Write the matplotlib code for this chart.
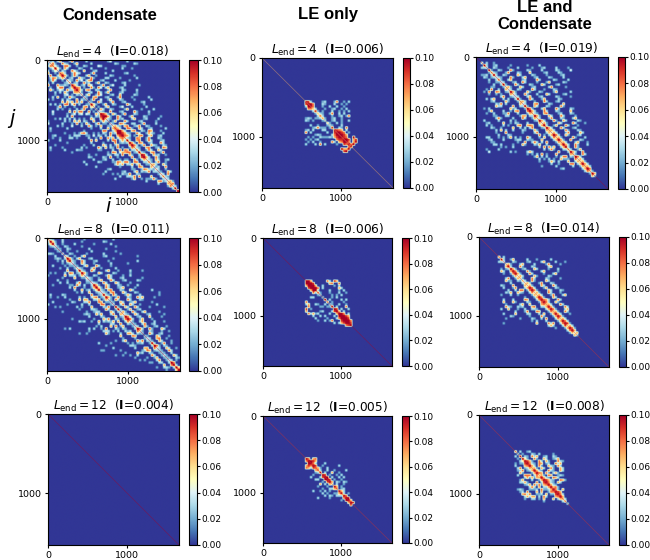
import numpy as np
import matplotlib
matplotlib.use("Agg")
import matplotlib.pyplot as plt

# each row starts on the diagonal, one char = one 30 bead bin, digit*0.01 (a = 0.10)
cond_4 = ["5230370002800000300000000240000003",
"4820083200270000030000000003200000032",
"7420088300200320000430000000022",
"a520730000320003000002000000300020",
"4032008420070002300000030000000",
"8730028430000280000300000002300",
"a720283000370020000032000000002",
"4023007320082000033000020000003",
"5320824037800023000030000020",
"6023008230027003200000230000",
"a730230740002800240000300000200",
"a870200820840370000230000000",
"a730780032000280000320000300",
"6200230083027000023000002000",
"5037002840002300700000320000",
"4200780002300028000020000003",
"3028004002700032000020000003",
"3200830002800023000000230000",
"a620027003200008300000200",
"5020037000024000300000300",
"3073003200002700000200003",
"4320080002300008200003000",
"a9720730028000320000200000",
"aa720083000270000320000020",
"6320082300037000230000300",
"3027000830000230000020",
"4200872003300280000300",
"5732078002380032000020",
"8730088200730023000003",
"aa73007800320870002",
"a9732008400273200030",
"a873020780037002300",
"6320087002800032000",
"a30078002830002300",
"a720870023000830",
"a830280073200320",
"6320078002308700",
"7300283007300",
"a32007800280000",
"a9300723002000",
"a73008200",
"5320730023",
"720380020",
"6730072",
"423008",
"53002",
"3200730",
"53080",
"73200",
"4300",
"5720",
"680",
"43",
"a",
"a"]

cond_8 = ["6320003000000002000000000003",
"a620030000000200000000320000",
"a30020000300000002000000300",
"4200320000020000000000000200",
"3200320000000300000020",
"3002000200000300000000020",
"4003200000200000030000002",
"5300200370000000230000000000002",
"a720370002300000000200000",
"a320083000230000200000000000300",
"4200730002000000300000020",
"320037000830000200000",
"5320003800200000300000",
"a320083000037000200003000020",
"a720000730000320000020000",
"4200320002730000200300000",
"5320020007300023000000020",
"3200370008300023000032",
"4320083000730000200000",
"a720073000320020003",
"a620830002370000200000",
"a320780003200730000000300",
"4320780007300032000000002",
"a320830002730003000000020",
"a720280003200837000020",
"4208300083000320000",
"3200730023700000020000",
"4003800730020000003",
"a200730083000020000020",
"a300270023000000",
"3720082003700000200",
"5320073000230000020",
"a830023000700002",
"a830027000200",
"4200370000300020",
"3200380023000",
"4300720023000200",
"a83008200073",
"5200320002002",
"300830023000",
"32000730002000",
"4300780020",
"32007300020",
"a300280020",
"a820320",
"4300730020",
"3200830",
"320030",
"42007300",
"3200320",
"4302",
"a80",
"a30",
"a6",
"a"]

cond_12 = [""] * 55

le_4 = [""] * 18 + ["a9300002300028002030",
"aa800032000300202",
"a80002003003002000",
"6300020023002030",
"a20200030020203",
"632002800303",
"83000200230280",
"7200230020",
"3002300200300",
"5200302000",
"32000300",
"a0032080",
"a9870300",
"aa98020",
"aa97000",
"a9800a",
"aa9079",
"a807a",
"a8a",
"a"] + [""] * 17

le_8 = [""] * 18 + ["aa7000000830970",
"aa9000000780080",
"aa7003000020300",
"aa803000000730",
"a3000030002030",
"82000200030020",
"300002020300",
"3000203000",
"a0300003030",
"7020000200",
"32003002",
"a0300080",
"a9030030",
"a70300",
"aa8030",
"aa970",
"aa90",
"aa8",
"a9",
"a"] + [""] * 17

le_12 = [""] * 18 + ["a80780",
"aa970000",
"a8300030",
"a90020000003",
"872003000000",
"83003002000030",
"a0300700200",
"a9020020300",
"aa030030300",
"a9020020",
"a70320320",
"5030020",
"a7020",
"80230",
"a7300",
"a302",
"a80",
"aa",
"a7",
"a9"] + [""] * 17

both_4 = ["", "",
"5030020",
"a3002300000200000020000300",
"4003200002000300000200023000030000200",
"a200320008200000320000300000320000400",
"7320002800032000700000230000320000",
"a300320000730000320000200000230000",
"4320008200037000230000320000300",
"8200370000230000830000032000030",
"4300023008300002000270000032000",
"a200083000032000730000230000",
"5720007300023000003800000200000",
"4300320000830002000320000",
"a720000720003200002700000300",
"5300082000300073000002300",
"4300037000230000032000020",
"a2000830002700000320000",
"6730002000830002300000",
"4300078000032000070000",
"a200730003200008200",
"a82000370000830000320",
"a730008300032000070",
"6320078000023000320",
"a720007300083000020",
"5300028000320003700",
"a730008200730000320",
"4720000730000830002",
"a30027000830002",
"a7300083000230",
"6730000820003200",
"4730002800007300",
"a83007200023",
"5720000820003",
"a72008000320",
"6730003700020",
"a7300820003",
"a30082000",
"7300270",
"a73008",
"6200830",
"a8300",
"4730",
"5720",
"a730",
"673",
"a8",
"62",
"a7",
"3",
"",
"", "", "", ""]

both_8 = [""] * 8 + ["7030",
"a3002700000300020000030",
"4000320000230000370000300020",
"5720003700003000028000020",
"a300082000320000037000",
"a720023000730000200030",
"a820008200003700000200",
"a720008300002000370",
"4730000720000320000",
"5200083000032000020",
"6300820000730000",
"5730002800032000",
"4720007300083000",
"a83000270003200",
"a820000730003200",
"4720008300020",
"5730002800037",
"a8200073000",
"a873000830",
"a8300720",
"6730008300",
"a720000830",
"a82000370",
"6720083",
"a730002",
"a8200",
"573000",
"a8300",
"a920",
"573",
"a82",
"a7",
"47",
"3",
"",
"", "", "", "", "", "", "", "", "", "", "", ""]

both_12 = [""] * 15 + ["7030023",
"302000320300000200",
"a0320837002300320",
"a52008200730023700",
"a97200830720008320",
"a83208702300837",
"a730820073208300",
"6720730082007300",
"a732008320073",
"a8708203720",
"57208700232",
"a73208730",
"a973200872",
"a8320730",
"a73200",
"a78200",
"a8207",
"a970",
"a830",
"a7",
"73",
"7",
"3"] + [""] * 17

lend_labels = ["4", "8", "12"]
col_titles = ["Condensate", "LE only", "LE and\nCondensate"]
cells = [[cond_4, le_4, both_4], [cond_8, le_8, both_8], [cond_12, le_12, both_12]]
info = [["0.018", "0.006", "0.019"], ["0.011", "0.006", "0.014"], ["0.004", "0.005", "0.008"]]
diag_level = [[0.1, 0.07, 0.1], [0.1, 0.1, 0.09], [0.1, 0.09, 0.09]]
n_bins = 55
bin_size = 30

# x0, x1, y0, y1 in pixels
boxes = [[(47, 179, 60, 192), (262, 393, 58, 188), (476, 608, 57, 189)],
         [(47, 180, 238, 371), (263, 392, 238, 366), (479, 609, 237, 367)],
         [(48, 179, 414, 545), (263, 392, 416, 543), (479, 609, 415, 545)]]
cbars = [[(189, 198), (403, 410), (618, 625)],
         [(189, 198), (402, 409), (619, 626)],
         [(189, 197), (402, 409), (619, 626)]]


def to_matrix(rows):
    m = np.zeros((n_bins, n_bins))
    for i, r in enumerate(rows):
        for k, c in enumerate(r[:n_bins - i]):
            v = int(c, 16) * 0.01
            m[i, i + k] = v
            m[i + k, i] = v
    return m


def soften(m, f=5):
    # short ramp between bins so they read as small soft blobs
    pos = np.clip((np.arange(n_bins * f) + 0.5) / f - 0.5, 0, n_bins - 1.001)
    lo = pos.astype(int)
    t = np.clip((pos - lo - 0.2) / 0.6, 0, 1)
    a = m[lo, :] * (1 - t)[:, None] + m[lo + 1, :] * t[:, None]
    return a[:, lo] * (1 - t) + a[:, lo + 1] * t


W, H = 650, 560
fig = plt.figure(figsize=(W / 100, H / 100), dpi=100)


def px_axes(x0, x1, y0, y1):
    return fig.add_axes([x0 / W, 1 - y1 / H, (x1 - x0) / W, (y1 - y0) / H])


for r in range(3):
    for c in range(3):
        ax = px_axes(*boxes[r][c])
        m = soften(to_matrix(cells[r][c]))
        # thin contact line on the main diagonal
        np.fill_diagonal(m, diag_level[r][c])
        im = ax.imshow(m, cmap="RdYlBu_r", vmin=0, vmax=0.1, aspect="auto",
                       extent=(0, n_bins * bin_size, n_bins * bin_size, 0))
        ax.set_xticks([0, 1000])
        ax.set_yticks([0, 1000])
        ax.tick_params(labelsize=6.8, length=2.5, pad=2)
        ax.set_title(r"$L_{\rm end}=%s$  ($\mathbf{I}$=%s)" % (lend_labels[r], info[r][c]),
                     fontsize=8.7, pad=2.5)
        x0, x1, y0, y1 = boxes[r][c]
        cax = px_axes(cbars[r][c][0], cbars[r][c][1], y0, y1)
        cb = fig.colorbar(im, cax=cax)
        cb.set_ticks([0, 0.02, 0.04, 0.06, 0.08, 0.10])
        cb.ax.set_yticklabels(["0.00", "0.02", "0.04", "0.06", "0.08", "0.10"])
        cb.ax.tick_params(labelsize=6.5, length=2, pad=1)

head_x = [110, 328, 545]
head_y = [15, 15, 16]
for x, y, t in zip(head_x, head_y, col_titles):
    fig.text(x / W, 1 - y / H, t, ha="center", va="center", fontsize=12,
             fontweight="bold", family="Liberation Sans", linespacing=1.2)

fig.text(12 / W, 1 - 118 / H, "$j$", ha="center", va="center", fontsize=14)
fig.text(109 / W, 1 - 206 / H, "$i$", ha="center", va="center", fontsize=14)

fig.savefig("out.png", dpi=100)
